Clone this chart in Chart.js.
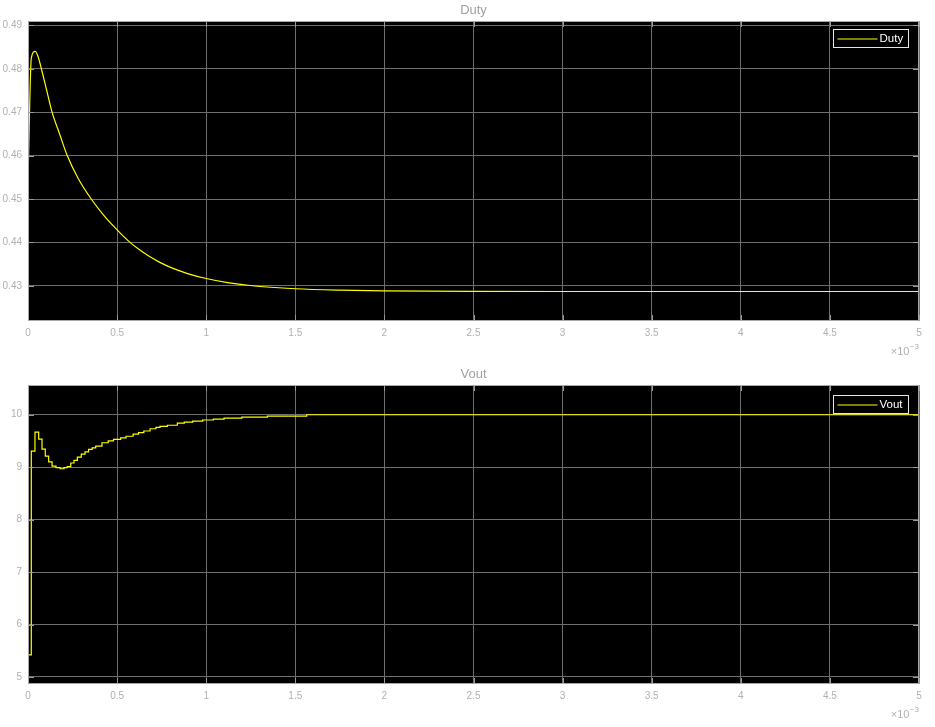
<!DOCTYPE html>
<html>
<head>
<meta charset="utf-8">
<script src="https://cdn.jsdelivr.net/npm/chart.js@4.4.1/dist/chart.umd.min.js"></script>
<style>
  html, body { margin: 0; padding: 0; background: #ffffff; }
  #wrap { position: relative; width: 935px; height: 727px; overflow: hidden; }
  canvas { position: absolute; left: 0; }
  #c1 { top: 0; }
  #c2 { top: 364px; }
</style>
</head>
<body>
<div id="wrap">
  <canvas id="c1" width="935" height="362"></canvas>
  <canvas id="c2" width="935" height="363"></canvas>
</div>
<script>
// ---- data (time in units of 1e-3 s) ----
const xTicks = [0, 0.5, 1, 1.5, 2, 2.5, 3, 3.5, 4, 4.5, 5];
const xTickLabels = ['0', '0.5', '1', '1.5', '2', '2.5', '3', '3.5', '4', '4.5', '5'];

const dutyTicks = [0.43, 0.44, 0.45, 0.46, 0.47, 0.48, 0.49];
const dutyTickLabels = ['0.43', '0.44', '0.45', '0.46', '0.47', '0.48', '0.49'];

const voutTicks = [5, 6, 7, 8, 9, 10];
const voutTickLabels = ['5', '6', '7', '8', '9', '10'];

const dutyT = [0, 0.0187, 0.041, 0.058, 0.075, 0.105, 0.135, 0.178, 0.220, 0.281, 0.355, 0.43, 0.50, 0.563, 0.62, 0.68, 0.74, 0.8, 0.9, 1.0, 1.12, 1.246, 1.5, 1.75, 2.0, 2.5, 3.0, 4.0, 5.0];
const dutyV = [0.4544, 0.4825, 0.4840, 0.4826, 0.4800, 0.4750, 0.4700, 0.4649, 0.4600, 0.4548, 0.4500, 0.4460, 0.4429, 0.44036, 0.43846, 0.43679, 0.43541, 0.43426, 0.43277, 0.43168, 0.43074, 0.43008, 0.42933, 0.42900, 0.42885, 0.42873, 0.4287, 0.4287, 0.4287];

const voutT = [0, 0.0185, 0.039, 0.06, 0.0786, 0.097, 0.116, 0.135, 0.157, 0.18, 0.202, 0.22, 0.24, 0.258, 0.277, 0.299, 0.32, 0.34, 0.36, 0.38, 0.415, 0.45, 0.48, 0.52, 0.55, 0.59, 0.62, 0.65, 0.685, 0.718, 0.741, 0.782, 0.838, 0.877, 0.924, 0.98, 1.04, 1.10, 1.20, 1.343, 1.564, 5.0];
const voutV = [5.42, 9.307, 9.67, 9.536, 9.345, 9.21, 9.103, 9.02, 8.99, 8.97, 8.99, 9.01, 9.08, 9.13, 9.19, 9.25, 9.29, 9.34, 9.37, 9.40, 9.466, 9.50, 9.53, 9.56, 9.59, 9.63, 9.66, 9.69, 9.733, 9.758, 9.777, 9.80, 9.84, 9.86, 9.88, 9.90, 9.918, 9.937, 9.956, 9.975, 10.0, 10.0];

const LINE_COLOR = '#ffff00';
const FONT = '"Liberation Sans", Arial, sans-serif';

function pts(t, v) { return t.map((x, i) => ({ x: x, y: v[i] })); }

const scopePlugin = {
  id: 'scope',
  beforeDraw(chart, args, opts) {
    const a = chart.chartArea;
    const ctx = chart.ctx;
    ctx.save();
    ctx.fillStyle = '#000000';
    ctx.fillRect(a.left, a.top, a.right - a.left, a.bottom - a.top);
    ctx.restore();
  },
  afterDraw(chart, args, opts) {
    const a = chart.chartArea;
    const ctx = chart.ctx;
    const xs = chart.scales.x, ys = chart.scales.y;
    ctx.save();
    // inner tick marks
    ctx.strokeStyle = '#9a9a9a';
    ctx.lineWidth = 1;
    ctx.beginPath();
    xs.ticks.forEach(t => {
      const px = Math.round(xs.getPixelForValue(t.value)) + 0.5;
      ctx.moveTo(px, a.bottom); ctx.lineTo(px, a.bottom - 6);
      ctx.moveTo(px, a.top); ctx.lineTo(px, a.top + 6);
    });
    ys.ticks.forEach(t => {
      const py = Math.round(ys.getPixelForValue(t.value)) + 0.5;
      ctx.moveTo(a.left, py); ctx.lineTo(a.left + 6, py);
      ctx.moveTo(a.right, py); ctx.lineTo(a.right - 6, py);
    });
    ctx.stroke();
    // axes box
    ctx.strokeStyle = '#a8a8a8';
    ctx.strokeRect(Math.round(a.left) + 0.5, Math.round(a.top) + 0.5, Math.round(a.right - a.left) - 1, Math.round(a.bottom - a.top) - 1);

    // title
    ctx.fillStyle = '#a0a0a0';
    ctx.font = '13px ' + FONT;
    ctx.textAlign = 'center';
    ctx.textBaseline = 'middle';
    ctx.fillText(opts.title, (a.left + a.right) / 2, opts.titleY);

    // exponent label  x10^-3
    ctx.fillStyle = '#b0b0b0';
    ctx.textAlign = 'right';
    ctx.textBaseline = 'middle';
    ctx.font = '8px ' + FONT;
    const supW = ctx.measureText('\u22123').width;
    ctx.fillText('\u22123', a.right, a.bottom + 26);
    ctx.font = '11px ' + FONT;
    ctx.fillText('\u00d710', a.right - supW - 0.5, a.bottom + 31);

    // legend
    const ds = chart.data.datasets[0];
    const bw = 75, bh = 18;
    const bx = Math.round(a.right - 11 - bw) + 0.5;
    const by = Math.round(a.top + opts.legendTop) + 0.5;
    ctx.fillStyle = '#000000';
    ctx.fillRect(bx, by, bw, bh);
    ctx.strokeStyle = '#e6e6e6';
    ctx.lineWidth = 1;
    ctx.strokeRect(bx, by, bw, bh);
    ctx.strokeStyle = ds.borderColor;
    ctx.beginPath();
    ctx.moveTo(bx + 4, by + 9.5);
    ctx.lineTo(bx + 44, by + 9.5);
    ctx.stroke();
    ctx.fillStyle = '#ffffff';
    ctx.font = '11.5px ' + FONT;
    ctx.textAlign = 'left';
    ctx.textBaseline = 'middle';
    ctx.fillText(ds.label, bx + 46, by + bh / 2 + 0.5);
    ctx.restore();
  }
};

function makeChart(id, label, data, yMin, yMax, yTicks, yTickLabels, stepped, pluginOpts, xAxisHeight) {
  return new Chart(document.getElementById(id), {
    type: 'line',
    data: {
      datasets: [{
        label: label,
        data: data,
        borderColor: LINE_COLOR,
        backgroundColor: LINE_COLOR,
        borderWidth: 1.2,
        pointRadius: 0,
        fill: false,
        stepped: stepped,
        cubicInterpolationMode: stepped ? 'default' : 'monotone'
      }]
    },
    options: {
      responsive: false,
      animation: false,
      devicePixelRatio: 1,
      layout: { padding: { top: 21, right: 16, left: 0, bottom: 0 } },
      plugins: {
        legend: { display: false },
        tooltip: { enabled: false },
        title: { display: false },
        scope: pluginOpts
      },
      scales: {
        x: {
          type: 'linear',
          min: 0, max: 5,
          afterFit: s => { s.height = xAxisHeight; },
          afterBuildTicks: s => { s.ticks = xTicks.map(v => ({ value: v })); },
          ticks: {
            color: '#b0b0b0',
            font: { family: FONT, size: 10 },
            padding: 6,
            maxRotation: 0,
            autoSkip: false,
            callback: (v, i) => xTickLabels[xTicks.indexOf(v)]
          },
          grid: { color: '#6e6e6e', lineWidth: 1, drawTicks: false },
          border: { display: false }
        },
        y: {
          type: 'linear',
          min: yMin, max: yMax,
          afterFit: s => { s.width = 28; },
          afterBuildTicks: s => { s.ticks = yTicks.map(v => ({ value: v })); },
          ticks: {
            color: '#b0b0b0',
            font: { family: FONT, size: 10 },
            padding: 6,
            autoSkip: false,
            callback: (v, i) => yTickLabels[yTicks.indexOf(v)]
          },
          grid: { color: '#6e6e6e', lineWidth: 1, drawTicks: false },
          border: { display: false }
        }
      }
    },
    plugins: [scopePlugin]
  });
}

makeChart('c1', 'Duty', pts(dutyT, dutyV), 0.4219, 0.491, dutyTicks, dutyTickLabels, false,
  { title: 'Duty', titleY: 10.5, legendTop: 8 }, 41);
makeChart('c2', 'Vout', pts(voutT, voutV), 4.866, 10.567, voutTicks, voutTickLabels, true,
  { title: 'Vout', titleY: 10.5, legendTop: 9.5 }, 43);
</script>
</body>
</html>
